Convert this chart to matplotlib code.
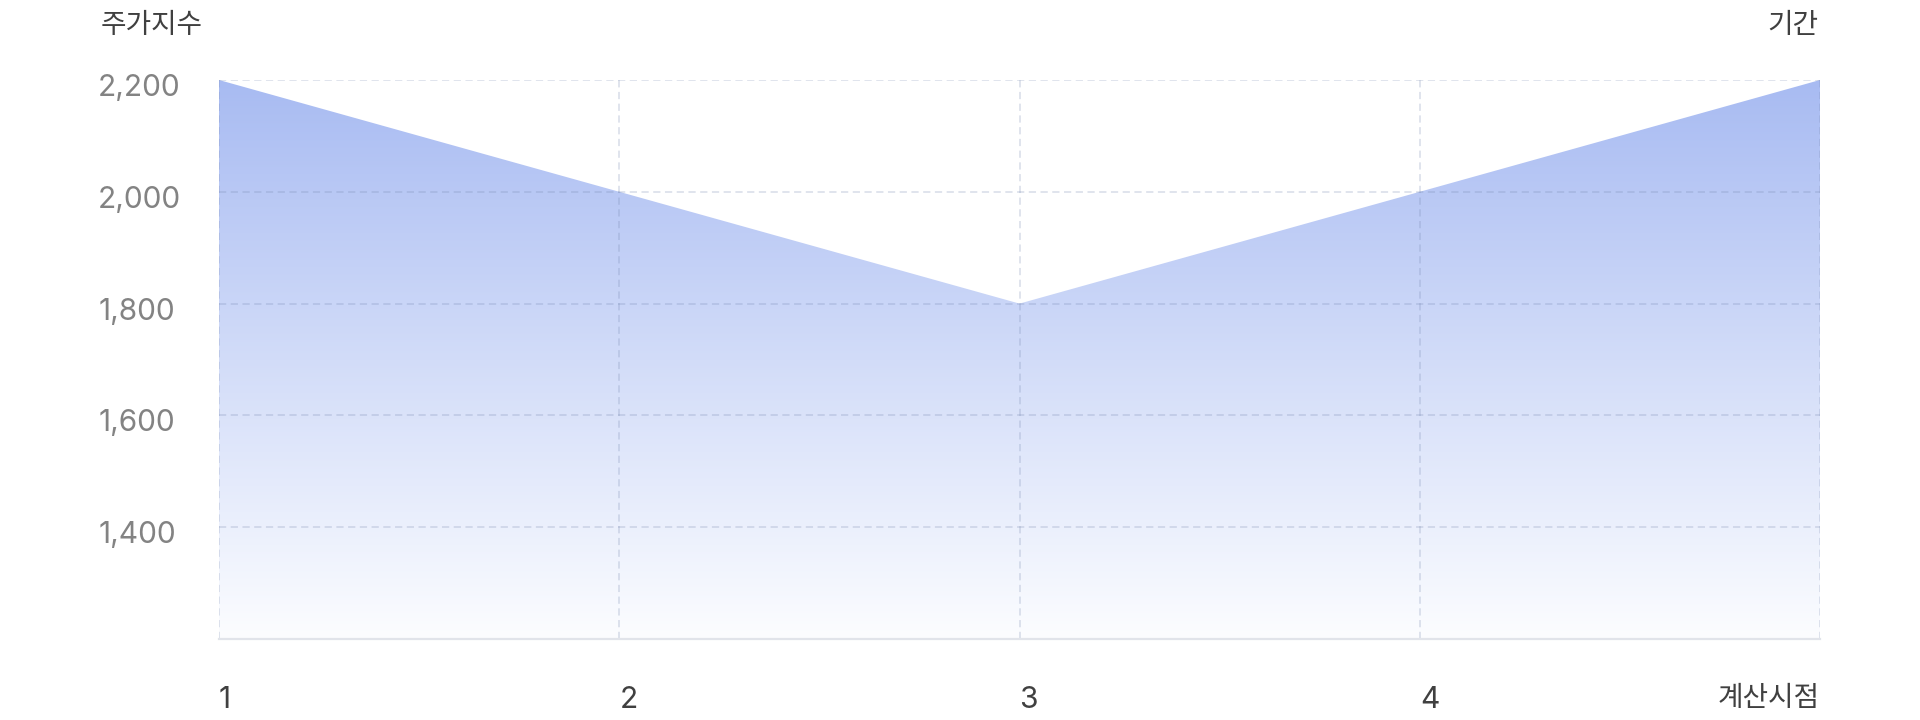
import numpy as np
import matplotlib
matplotlib.use("Agg")
from matplotlib import pyplot as plt
from matplotlib import transforms
from matplotlib.colors import LinearSegmentedColormap
from matplotlib.patches import Polygon

# fonts: Inter for digits, Noto Sans CJK KR for hangul
plt.rcParams['font.family'] = ['Inter', 'Noto Sans CJK KR', 'DejaVu Sans']

# data
x_pos = [1, 2, 3, 4, 5]
x_labels = ['1', '2', '3', '4', '계산시점']
index_values = [2200, 2000, 1800, 2000, 2200]
y_ticks = [1400, 1600, 1800, 2000, 2200]
y_min, y_max = 1200, 2200

y_title = '주가지수'
x_title = '기간'

fig = plt.figure(figsize=(19.2, 7.2), dpi=100)
ax = fig.add_axes([219/1920, 1 - 639/720, (1820 - 219)/1920, (639 - 80)/720])

ax.set_xlim(x_pos[0], x_pos[-1])
ax.set_ylim(y_min, y_max)

# gradient fill under the line
cmap = LinearSegmentedColormap.from_list('fade', ['#fcfdff', '#a8bbf2'])
grad = np.linspace(0, 1, 256).reshape(-1, 1)
img = ax.imshow(grad, cmap=cmap, origin='lower', aspect='auto',
                extent=[x_pos[0], x_pos[-1], y_min, max(index_values)], zorder=1)
verts = list(zip(x_pos, index_values)) + [(x_pos[-1], y_min), (x_pos[0], y_min)]
poly = Polygon(verts, closed=True, facecolor='none', edgecolor='none')
ax.add_patch(poly)
img.set_clip_path(poly)

# grid
grid_kw = dict(color=(0.45, 0.52, 0.68, 0.24), lw=1.3, ls=(0, (4, 2.5)), zorder=3)
for yv in y_ticks:
    ax.axhline(yv, **grid_kw)
for xv in x_pos:
    ax.axvline(xv, **grid_kw)

for s in ['top', 'right', 'left']:
    ax.spines[s].set_visible(False)
ax.spines['bottom'].set_color('#e1e4ea')
ax.spines['bottom'].set_linewidth(1.6)
ax.spines['bottom'].set_zorder(4)

# y ticks
ax.set_yticks(y_ticks)
ax.set_yticklabels([f'{v:,}' for v in y_ticks])
ax.tick_params(axis='y', length=0, pad=87, labelsize=21.5, labelcolor='#838383')
shift = transforms.ScaledTranslation(0, -5/100, fig.dpi_scale_trans)
for lab in ax.get_yticklabels():
    lab.set_horizontalalignment('left')
    lab.set_transform(lab.get_transform() + shift)

# x ticks
ax.set_xticks(x_pos)
ax.set_xticklabels(x_labels)
ax.tick_params(axis='x', length=0, pad=34, labelsize=21.5, labelcolor='#404040')
xl = ax.get_xticklabels()
for lab in xl[:-1]:
    lab.set_horizontalalignment('left')
xl[-1].set_horizontalalignment('right')
xl[-1].set_fontsize(20)

# axis titles
fig.text(101/1920, 1 - 26/720, y_title, ha='left', va='center', fontsize=20, color='#404040')
fig.text(1818/1920, 1 - 26/720, x_title, ha='right', va='center', fontsize=20, color='#404040')

fig.savefig('out.png', dpi=100, facecolor='white')
